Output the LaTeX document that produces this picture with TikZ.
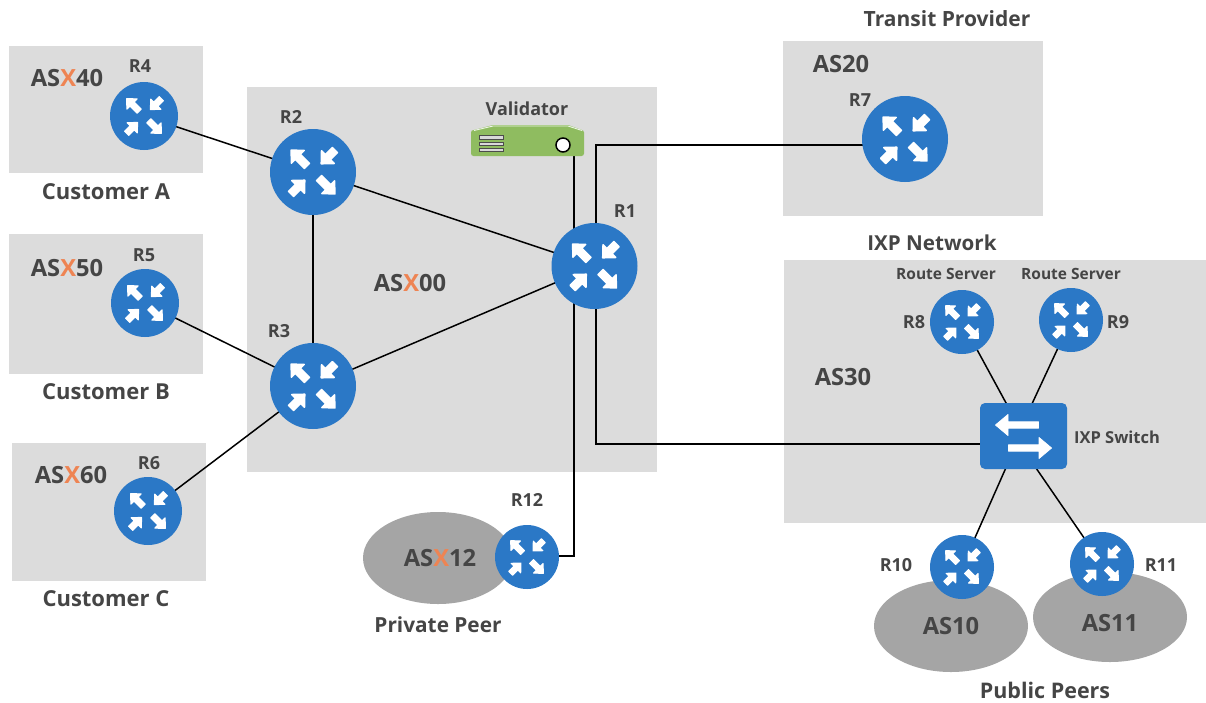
\documentclass[tikz,border=0pt]{standalone}
\usepackage{fontspec}
\setmainfont{Open Sans}
\pgfdeclarelayer{bg}\pgfdeclarelayer{conn}
\pgfsetlayers{bg,conn,main}
\definecolor{boxgray}{HTML}{DCDCDC}
\definecolor{cloudgray}{HTML}{A5A5A5}
\definecolor{netblue}{HTML}{2B78C6}
\definecolor{txt}{HTML}{454545}
\definecolor{xorange}{HTML}{EE8453}
\definecolor{valgreen}{HTML}{8FBC60}
\tikzset{
  areabox/.style={fill=boxgray,draw=none},
  cloud gray/.style={ellipse,fill=cloudgray,inner sep=0pt},
  link/.style={draw=black,line width=1.5pt},
  rtr/.style={circle,fill=netblue,draw=none,inner sep=0pt,minimum size=#1},
  lbl/.style={text=txt,font=\bfseries\fontsize{#1}{#1}\selectfont,inner sep=0pt,anchor=center},
}
\usetikzlibrary{shapes.geometric}
% name, x, y, radius
\newcommand{\rtrnode}[4]{%
  \node[rtr={#4*2pt}] (#1) at (#2,#3) {};
  \foreach \ang/\a/\b/\h in {135/.72/.2/.5, 315/.72/.2/.5, 45/.27/.72/.49, 225/.27/.72/.49}{
    \fill[white,draw=white,line width=#4*.035pt,line join=round,shift={(#1.center)},rotate=\ang,x=#4*1pt,y=#4*1pt]
      (\a,0) -- (\h,.21) -- (\h,.085)
      -- (\b,.085) -- (\b,-.085) -- (\h,-.085)
      -- (\h,-.21) -- cycle;
  }
}
\newcommand{\asname}[3]{\node[lbl=23.7] (#1) at (#2) {#3};}
\newcommand{\X}{\textcolor{xorange}{X}}
\begin{document}
\begin{tikzpicture}[x=1pt,y=-1pt]
\useasboundingbox (0,0) rectangle (1206,702);
\begin{pgfonlayer}{bg}
  \fill[areabox] (9,46) rectangle (203,173);
  \fill[areabox] (9,234) rectangle (203,374);
  \fill[areabox] (12,443) rectangle (206,581);
  \fill[areabox] (247,87) rectangle (657,472);
  \fill[areabox] (783,41) rectangle (1043,216);
  \fill[areabox] (784,260) rectangle (1206,523);
  \node[cloud gray,minimum width=150pt,minimum height=92pt] (e12) at (438,558) {};
  \node[cloud gray,minimum width=154pt,minimum height=92pt] (e10) at (951,626) {};
  \node[cloud gray,minimum width=154pt,minimum height=90pt] (e11) at (1110,617) {};
\end{pgfonlayer}

\rtrnode{R4}{144}{116}{34}
\rtrnode{R5}{145}{303}{34}
\rtrnode{R6}{148}{511}{34}
\rtrnode{R2}{313}{172}{43}
\rtrnode{R3}{313}{386}{43}
\rtrnode{R1}{594.5}{266}{43}
\rtrnode{R7}{905}{139}{43}
\rtrnode{R8}{962}{322}{32}
\rtrnode{R9}{1071}{320}{32}
\rtrnode{R10}{962}{567}{32}
\rtrnode{R11}{1102}{564}{32}
\rtrnode{R12}{527}{557}{32}

% IXP switch
\node[fill=netblue,rounded corners=5pt,minimum width=87pt,minimum height=66pt,inner sep=0pt] (SW) at (1023.5,436) {};
\fill[white,draw=white,line width=.8pt,line join=round] (995.5,425) -- (1008,414.5) -- (1008,421.8) -- (1038.5,421.8) -- (1038.5,428.2) -- (1008,428.2) -- (1008,435.5) -- cycle;
\fill[white,draw=white,line width=.8pt,line join=round] (1051.5,448) -- (1039,437.5) -- (1039,444.8) -- (1008.5,444.8) -- (1008.5,451.2) -- (1039,451.2) -- (1039,458.5) -- cycle;

% Validator
\fill[valgreen] (474,130) -- (493,125) -- (568,125) -- (582,130) -- cycle;
\node[fill=valgreen,rounded corners=2.5pt,minimum width=113pt,minimum height=26pt,inner sep=0pt] (VAL) at (527.5,143) {};
\draw[white!85!valgreen,line width=.9pt] (474,130.5) -- (493,126) -- (568,126) -- (582,130.5);
\foreach \yy in {137.5,144,150}{
  \draw[fill=white!85!black,draw=black!70,line width=.8pt] (479,\yy-1.8) rectangle (503,\yy+1.8);
}
\draw[fill=white,draw=black,line width=1.5pt] (563,145) circle (7);

% connector ends
\coordinate (v1) at (574,556);
\coordinate (e1) at (596,145);
\coordinate (e2) at (596,444);
\coordinate (p7) at (905,145);
\coordinate (p8) at (1024,436);
\coordinate (p9) at (1017,436);
\coordinate (p10) at (1020,436);
\coordinate (p11) at (1014,436);
\begin{pgfonlayer}{conn}
  \draw[link] (R4.center) -- (R2.center);
  \draw[link] (R5.center) -- (R3.center);
  \draw[link] (R6.center) -- (R3.center);
  \draw[link] (R2.center) -- (R3.center);
  \draw[link] (R2.center) -- (R1.center);
  \draw[link] (R3.center) -- (R1.center);
  \draw[link] (p7) -- (e1) -- (e1 |- R1.center);
  \draw[link] (e2 |- R1.center) -- (e2) -- (SW.center |- e2);
  \draw[link] (VAL.center -| v1) -- (v1) -- (R12.center |- v1);
  \draw[link] (R8.center) -- (p8);
  \draw[link] (R9.center) -- (p9);
  \draw[link] (R10.center) -- (p10);
  \draw[link] (R11.center) -- (p11);
\end{pgfonlayer}

% labels
\node[lbl=18] (l4) at (140,66) {R4};
\node[lbl=18] (l5) at (144,255) {R5};
\node[lbl=18] (l6) at (149,463) {R6};
\node[lbl=18] (l2) at (291,117) {R2};
\node[lbl=18] (l3) at (279,331) {R3};
\node[lbl=18] (l1) at (625,211) {R1};
\node[lbl=18] (l7) at (860,100) {R7};
\node[lbl=18] (l8) at (914,322) {R8};
\node[lbl=18] (l9) at (1118,322) {R9};
\node[lbl=18] (l10) at (896,565) {R10};
\node[lbl=18] (l11) at (1161,565) {R11};
\node[lbl=18] (l12) at (527,500) {R12};
\node[lbl=18] (lv) at (527,109) {Validator};
\asname{a40}{67,78}{AS\X40}
\asname{a50}{67,268}{AS\X50}
\asname{a60}{71,475}{AS\X60}
\asname{a00}{410,283}{AS\X00}
\asname{a12}{440,558}{AS\X12}
\asname{a20}{841,64}{AS20}
\asname{a30}{843,377}{AS30}
\asname{a10}{951,626}{AS10}
\asname{a11}{1110,623}{AS11}
\node[lbl=22] (ca) at (106,192) {Customer A};
\node[lbl=22] (cb) at (106,392) {Customer B};
\node[lbl=22] (cc) at (106,599) {Customer C};
\node[lbl=20.8] (pp) at (438,625) {Private Peer};
\node[lbl=21.5] (pu) at (1045,690) {Public Peers};
\node[lbl=21] (tp) at (947,19) {Transit Provider};
\node[lbl=20.6] (ix) at (932,243) {IXP Network};
\node[lbl=15.5] (rs1) at (946,274) {Route Server};
\node[lbl=15.5] (rs2) at (1071,274) {Route Server};
\node[lbl=16.5] (is) at (1117,437) {IXP Switch};
\end{tikzpicture}
\end{document}
